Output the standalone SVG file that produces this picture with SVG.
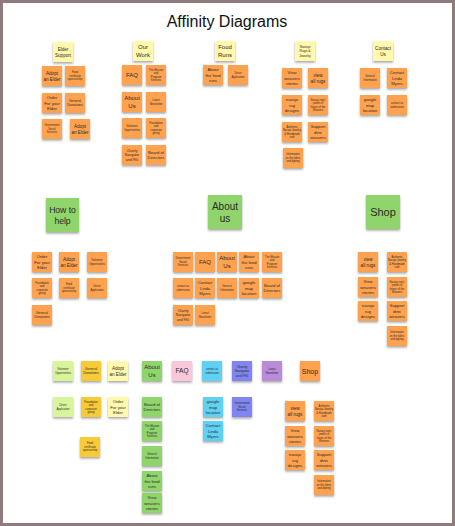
<svg xmlns="http://www.w3.org/2000/svg" width="455" height="526" viewBox="0 0 455 526">
<defs>
<filter id="sh" x="-20%" y="-20%" width="140%" height="150%">
<feDropShadow dx="0" dy="1.6" stdDeviation="0.9" flood-color="#000" flood-opacity="0.35"/>
</filter>
</defs>
<style>
rect.n{filter:url(#sh);}
.o{fill:#ffa250;}
.y{fill:#fff8ad;}
.g{fill:#8fd56c;}
.lg{fill:#d9f59b;}
.go{fill:#f7ca38;}
.p{fill:#fac7da;}
.c{fill:#5fd1f2;}
.bv{fill:#8085f2;}
.pu{fill:#ba8bd9;}
text{font-family:"Liberation Sans",Arial,sans-serif;fill:#2e2a26;text-anchor:middle;}
.a{font-size:4.6px;}
.b{font-size:4.2px;}
.cc{font-size:3.4px;}
.d{font-size:2.7px;}
.e{font-size:6px;}
.title{font-size:16px;fill:#111;}
</style>
<rect x="1.5" y="1.5" width="452" height="523" fill="#ffffff" stroke="#8f7b7d" stroke-width="3"/>
<text class="title" x="227" y="27">Affinity Diagrams</text>

<!-- Top section -->
<g id="elder-support"><rect class="n y" x="53" y="42" width="20" height="20"/><text class="a" x="63" y="50.6"><tspan x="63">Elder</tspan><tspan x="63" dy="6">Support</tspan></text></g>
<g id="adopt-1"><rect class="n o" x="42" y="66" width="20" height="20"/><text class="a" x="52" y="74.6"><tspan x="52">Adopt</tspan><tspan x="52" dy="6">an Elder</tspan></text></g>
<g id="food-cert-1"><rect class="n o" x="65" y="66" width="20" height="20"/><text class="d" x="75" y="73.45"><tspan x="75">Food</tspan><tspan x="75" dy="3.5">certificate</tspan><tspan x="75" dy="3.5">sponsorship</tspan></text></g>
<g id="order-1"><rect class="n o" x="42" y="93" width="20" height="20"/><text class="b" x="52" y="99.1"><tspan x="52">Order</tspan><tspan x="52" dy="5.4">For your</tspan><tspan x="52" dy="5.4">Elder</tspan></text></g>
<g id="gen-don-1"><rect class="n o" x="65" y="93" width="20" height="20"/><text class="cc" x="75" y="102"><tspan x="75">General</tspan><tspan x="75" dy="4.4">Donations</tspan></text></g>
<g id="gov-1"><rect class="n o" x="42" y="119" width="20" height="20"/><text class="d" x="52" y="126.45"><tspan x="52">Government</tspan><tspan x="52" dy="3.5">Social</tspan><tspan x="52" dy="3.5">Services</tspan></text></g>
<g id="adopt-2"><rect class="n o" x="70" y="119" width="20" height="20"/><text class="a" x="80" y="127.6"><tspan x="80">Adopt</tspan><tspan x="80" dy="6">an Elder</tspan></text></g>

<g id="our-work"><rect class="n y" x="133" y="41" width="20" height="20"/><text class="e" x="143" y="49.3"><tspan x="143">Our</tspan><tspan x="143" dy="7.6">Work</tspan></text></g>
<g id="faq-1"><rect class="n o" x="122" y="65" width="20" height="20"/><text class="e" x="132" y="77.1">FAQ</text></g>
<g id="mission-1"><rect class="n o" x="146" y="65" width="20" height="20"/><text class="d" x="156" y="70.7"><tspan x="156">The Mission</tspan><tspan x="156" dy="3.5">and</tspan><tspan x="156" dy="3.5">Program</tspan><tspan x="156" dy="3.5">Services</tspan></text></g>
<g id="about-1"><rect class="n o" x="122" y="92" width="20" height="20"/><text class="e" x="132" y="100.3"><tspan x="132">About</tspan><tspan x="132" dy="7.6">Us</tspan></text></g>
<g id="news-1"><rect class="n o" x="146" y="92" width="20" height="20"/><text class="d" x="156" y="101.2"><tspan x="156">Latest</tspan><tspan x="156" dy="3.5">Newsletter</tspan></text></g>
<g id="vol-1"><rect class="n o" x="122" y="118" width="20" height="20"/><text class="d" x="132" y="127.2"><tspan x="132">Volunteer</tspan><tspan x="132" dy="3.5">Opportunities</tspan></text></g>
<g id="found-1"><rect class="n o" x="146" y="118" width="20" height="20"/><text class="d" x="156" y="123.7"><tspan x="156">Foundation</tspan><tspan x="156" dy="3.5">and</tspan><tspan x="156" dy="3.5">corporate</tspan><tspan x="156" dy="3.5">giving</tspan></text></g>
<g id="charity-1"><rect class="n o" x="122" y="145" width="20" height="20"/><text class="cc" x="132" y="151.8"><tspan x="132">Charity</tspan><tspan x="132" dy="4.4">Navigator</tspan><tspan x="132" dy="4.4">and 990</tspan></text></g>
<g id="board-1"><rect class="n o" x="146" y="145" width="20" height="20"/><text class="b" x="156" y="153.8"><tspan x="156">Board of</tspan><tspan x="156" dy="5.4">Directors</tspan></text></g>

<g id="food-runs"><rect class="n y" x="215" y="41" width="20" height="20"/><text class="e" x="225" y="49.3"><tspan x="225">Food</tspan><tspan x="225" dy="7.6">Runs</tspan></text></g>
<g id="about-food-1"><rect class="n o" x="203" y="65" width="20" height="20"/><text class="b" x="213" y="71.1"><tspan x="213">About</tspan><tspan x="213" dy="5.4">the food</tspan><tspan x="213" dy="5.4">runs</tspan></text></g>
<g id="driver-1"><rect class="n o" x="228" y="65" width="20" height="20"/><text class="d" x="238" y="74.2"><tspan x="238">Driver</tspan><tspan x="238" dy="3.5">Application</tspan></text></g>

<g id="navajo-hdr"><rect class="n y" x="295" y="41" width="20" height="20"/><text class="cc" x="305" y="47.8"><tspan x="305">Navajo</tspan><tspan x="305" dy="4.4">Rugs &amp;</tspan><tspan x="305" dy="4.4">Jewelry</tspan></text></g>
<g id="weavers-1"><rect class="n o" x="282" y="68" width="20" height="20"/><text class="b" x="292" y="74.1"><tspan x="292">View</tspan><tspan x="292" dy="5.4">weavers</tspan><tspan x="292" dy="5.4">stories</tspan></text></g>
<g id="rugs-1"><rect class="n o" x="308" y="68" width="20" height="20"/><text class="a" x="318" y="76.6"><tspan x="318">view</tspan><tspan x="318" dy="6">all rugs</tspan></text></g>
<g id="designs-1"><rect class="n o" x="282" y="95" width="20" height="20"/><text class="b" x="292" y="101.1"><tspan x="292">navajo</tspan><tspan x="292" dy="5.4">rug</tspan><tspan x="292" dy="5.4">designs</tspan></text></g>
<g id="honor-1"><rect class="n o" x="308" y="95" width="20" height="20"/><text class="d" x="318" y="100.7"><tspan x="318">Navajo rug's</tspan><tspan x="318" dy="3.5">jewels in</tspan><tspan x="318" dy="3.5">honor of the</tspan><tspan x="318" dy="3.5">Weavers</tspan></text></g>
<g id="authentic-1"><rect class="n o" x="282" y="122" width="20" height="20"/><text class="d" x="292" y="127.7"><tspan x="292">Authentic</tspan><tspan x="292" dy="3.5">Navajo Jewelry</tspan><tspan x="292" dy="3.5">&amp; Handmade</tspan><tspan x="292" dy="3.5">craft</tspan></text></g>
<g id="support-1"><rect class="n o" x="308" y="122" width="20" height="20"/><text class="b" x="318" y="128.1"><tspan x="318">Support</tspan><tspan x="318" dy="5.4">dine</tspan><tspan x="318" dy="5.4">weavers</tspan></text></g>
<g id="info-1"><rect class="n o" x="283" y="148" width="20" height="20"/><text class="d" x="293" y="155.45"><tspan x="293">Information</tspan><tspan x="293" dy="3.5">on the fabric</tspan><tspan x="293" dy="3.5">and dyeing</tspan></text></g>

<g id="contact-hdr"><rect class="n y" x="373" y="41" width="20" height="20"/><text class="a" x="383" y="49.6"><tspan x="383">Contact</tspan><tspan x="383" dy="6">Us</tspan></text></g>
<g id="geninfo-1"><rect class="n o" x="360" y="68" width="20" height="20"/><text class="d" x="370" y="77.2"><tspan x="370">General</tspan><tspan x="370" dy="3.5">Information</tspan></text></g>
<g id="linda-1"><rect class="n o" x="387" y="68" width="20" height="20"/><text class="b" x="397" y="74.1"><tspan x="397">Contact</tspan><tspan x="397" dy="5.4">Linda</tspan><tspan x="397" dy="5.4">Myers</tspan></text></g>
<g id="google-1"><rect class="n o" x="360" y="95" width="20" height="20"/><text class="b" x="370" y="101.1"><tspan x="370">google</tspan><tspan x="370" dy="5.4">map</tspan><tspan x="370" dy="5.4">location</tspan></text></g>
<g id="submission-1"><rect class="n o" x="387" y="95" width="20" height="20"/><text class="d" x="397" y="104.2"><tspan x="397">contact us</tspan><tspan x="397" dy="3.5">submission</tspan></text></g>

<!-- Middle section -->
<g id="how-to-help"><rect class="n g" x="46" y="198" width="33" height="34"/><text x="62.5" y="212.5" style="font-size:8.6px"><tspan x="62.5">How to</tspan><tspan x="62.5" dy="11">help</tspan></text></g>
<g id="order-2"><rect class="n o" x="32" y="252" width="20" height="20"/><text class="b" x="42" y="258.1"><tspan x="42">Order</tspan><tspan x="42" dy="5.4">For your</tspan><tspan x="42" dy="5.4">Elder</tspan></text></g>
<g id="adopt-3"><rect class="n o" x="59" y="252" width="20" height="20"/><text class="a" x="69" y="260.6"><tspan x="69">Adopt</tspan><tspan x="69" dy="6">an Elder</tspan></text></g>
<g id="vol-2"><rect class="n o" x="87" y="252" width="20" height="20"/><text class="d" x="97" y="261.2"><tspan x="97">Volunteer</tspan><tspan x="97" dy="3.5">Opportunities</tspan></text></g>
<g id="found-2"><rect class="n o" x="32" y="278" width="20" height="20"/><text class="d" x="42" y="283.7"><tspan x="42">Foundation</tspan><tspan x="42" dy="3.5">and</tspan><tspan x="42" dy="3.5">corporate</tspan><tspan x="42" dy="3.5">giving</tspan></text></g>
<g id="food-cert-2"><rect class="n o" x="59" y="278" width="20" height="20"/><text class="d" x="69" y="285.45"><tspan x="69">Food</tspan><tspan x="69" dy="3.5">certificate</tspan><tspan x="69" dy="3.5">sponsorship</tspan></text></g>
<g id="driver-2"><rect class="n o" x="87" y="278" width="20" height="20"/><text class="d" x="97" y="287.2"><tspan x="97">Driver</tspan><tspan x="97" dy="3.5">Application</tspan></text></g>
<g id="gen-don-2"><rect class="n o" x="32" y="305" width="20" height="20"/><text class="cc" x="42" y="314"><tspan x="42">General</tspan><tspan x="42" dy="4.4">Donations</tspan></text></g>

<g id="about-us-hdr"><rect class="n g" x="208" y="195" width="34" height="34"/><text x="225" y="209.5" style="font-size:10px"><tspan x="225">About</tspan><tspan x="225" dy="12">us</tspan></text></g>
<g id="gov-2"><rect class="n o" x="173" y="252" width="20" height="20"/><text class="d" x="183" y="259.45"><tspan x="183">Government</tspan><tspan x="183" dy="3.5">Social</tspan><tspan x="183" dy="3.5">Services</tspan></text></g>
<g id="faq-2"><rect class="n o" x="195" y="252" width="20" height="20"/><text class="e" x="205" y="264.1">FAQ</text></g>
<g id="about-2"><rect class="n o" x="217" y="252" width="20" height="20"/><text class="e" x="227" y="260.3"><tspan x="227">About</tspan><tspan x="227" dy="7.6">Us</tspan></text></g>
<g id="about-food-2"><rect class="n o" x="239" y="252" width="20" height="20"/><text class="b" x="249" y="258.1"><tspan x="249">About</tspan><tspan x="249" dy="5.4">the food</tspan><tspan x="249" dy="5.4">runs</tspan></text></g>
<g id="mission-2"><rect class="n o" x="262" y="252" width="20" height="20"/><text class="d" x="272" y="257.7"><tspan x="272">The Mission</tspan><tspan x="272" dy="3.5">and</tspan><tspan x="272" dy="3.5">Program</tspan><tspan x="272" dy="3.5">Services</tspan></text></g>
<g id="submission-2"><rect class="n o" x="173" y="278" width="20" height="20"/><text class="d" x="183" y="287.2"><tspan x="183">contact us</tspan><tspan x="183" dy="3.5">submission</tspan></text></g>
<g id="linda-2"><rect class="n o" x="195" y="278" width="20" height="20"/><text class="b" x="205" y="284.1"><tspan x="205">Contact</tspan><tspan x="205" dy="5.4">Linda</tspan><tspan x="205" dy="5.4">Myers</tspan></text></g>
<g id="geninfo-2"><rect class="n o" x="217" y="278" width="20" height="20"/><text class="d" x="227" y="287.2"><tspan x="227">General</tspan><tspan x="227" dy="3.5">Information</tspan></text></g>
<g id="google-2"><rect class="n o" x="239" y="278" width="20" height="20"/><text class="b" x="249" y="284.1"><tspan x="249">google</tspan><tspan x="249" dy="5.4">map</tspan><tspan x="249" dy="5.4">location</tspan></text></g>
<g id="board-2"><rect class="n o" x="262" y="278" width="20" height="20"/><text class="b" x="272" y="286.8"><tspan x="272">Board of</tspan><tspan x="272" dy="5.4">Directors</tspan></text></g>
<g id="charity-2"><rect class="n o" x="173" y="305" width="20" height="20"/><text class="cc" x="183" y="311.8"><tspan x="183">Charity</tspan><tspan x="183" dy="4.4">Navigator</tspan><tspan x="183" dy="4.4">and 990</tspan></text></g>
<g id="news-2"><rect class="n o" x="195" y="305" width="20" height="20"/><text class="d" x="205" y="314.2"><tspan x="205">Latest</tspan><tspan x="205" dy="3.5">Newsletter</tspan></text></g>

<g id="shop-hdr"><rect class="n g" x="366" y="195" width="34" height="34"/><text x="383" y="215.9" style="font-size:11px">Shop</text></g>
<g id="rugs-2"><rect class="n o" x="358" y="252" width="20" height="20"/><text class="a" x="368" y="260.6"><tspan x="368">view</tspan><tspan x="368" dy="6">all rugs</tspan></text></g>
<g id="authentic-2"><rect class="n o" x="387" y="252" width="20" height="20"/><text class="d" x="397" y="257.7"><tspan x="397">Authentic</tspan><tspan x="397" dy="3.5">Navajo Jewelry</tspan><tspan x="397" dy="3.5">&amp; Handmade</tspan><tspan x="397" dy="3.5">craft</tspan></text></g>
<g id="weavers-2"><rect class="n o" x="358" y="277" width="20" height="20"/><text class="b" x="368" y="283.1"><tspan x="368">View</tspan><tspan x="368" dy="5.4">weavers</tspan><tspan x="368" dy="5.4">stories</tspan></text></g>
<g id="honor-2"><rect class="n o" x="387" y="277" width="20" height="20"/><text class="d" x="397" y="282.7"><tspan x="397">Navajo rug's</tspan><tspan x="397" dy="3.5">jewels in</tspan><tspan x="397" dy="3.5">honor of the</tspan><tspan x="397" dy="3.5">Weavers</tspan></text></g>
<g id="designs-2"><rect class="n o" x="358" y="301" width="20" height="20"/><text class="b" x="368" y="307.1"><tspan x="368">navajo</tspan><tspan x="368" dy="5.4">rug</tspan><tspan x="368" dy="5.4">designs</tspan></text></g>
<g id="support-2"><rect class="n o" x="387" y="301" width="20" height="20"/><text class="b" x="397" y="307.1"><tspan x="397">Support</tspan><tspan x="397" dy="5.4">dine</tspan><tspan x="397" dy="5.4">weavers</tspan></text></g>
<g id="info-2"><rect class="n o" x="387" y="326" width="20" height="20"/><text class="d" x="397" y="333.45"><tspan x="397">Information</tspan><tspan x="397" dy="3.5">on the fabric</tspan><tspan x="397" dy="3.5">and dyeing</tspan></text></g>

<!-- Bottom section -->
<g id="vol-3"><rect class="n lg" x="53" y="361" width="20" height="20"/><text class="d" x="63" y="370.2"><tspan x="63">Volunteer</tspan><tspan x="63" dy="3.5">Opportunities</tspan></text></g>
<g id="gen-don-3"><rect class="n go" x="81" y="361" width="20" height="20"/><text class="cc" x="91" y="370"><tspan x="91">General</tspan><tspan x="91" dy="4.4">Donations</tspan></text></g>
<g id="adopt-4"><rect class="n y" x="108" y="361" width="20" height="20"/><text class="a" x="118" y="369.6"><tspan x="118">Adopt</tspan><tspan x="118" dy="6">an Elder</tspan></text></g>
<g id="about-3"><rect class="n g" x="142" y="361" width="20" height="20"/><text class="e" x="152" y="369.3"><tspan x="152">About</tspan><tspan x="152" dy="7.6">Us</tspan></text></g>
<g id="faq-3"><rect class="n p" x="172" y="361" width="20" height="20"/><text x="182" y="373.3" style="font-size:6.5px">FAQ</text></g>
<g id="submission-3"><rect class="n c" x="202" y="361" width="20" height="20"/><text class="d" x="212" y="370.2"><tspan x="212">contact us</tspan><tspan x="212" dy="3.5">submission</tspan></text></g>
<g id="charity-3"><rect class="n bv" x="232" y="361" width="20" height="20"/><text class="cc" x="242" y="367.8"><tspan x="242">Charity</tspan><tspan x="242" dy="4.4">Navigator</tspan><tspan x="242" dy="4.4">and 990</tspan></text></g>
<g id="news-3"><rect class="n pu" x="262" y="361" width="20" height="20"/><text class="d" x="272" y="370.2"><tspan x="272">Latest</tspan><tspan x="272" dy="3.5">Newsletter</tspan></text></g>
<g id="shop-3"><rect class="n o" x="300" y="361" width="20" height="20"/><text x="310" y="373.5" style="font-size:7px">Shop</text></g>

<g id="driver-3"><rect class="n lg" x="53" y="397" width="20" height="20"/><text class="d" x="63" y="406.2"><tspan x="63">Driver</tspan><tspan x="63" dy="3.5">Application</tspan></text></g>
<g id="found-3"><rect class="n go" x="81" y="397" width="20" height="20"/><text class="d" x="91" y="402.7"><tspan x="91">Foundation</tspan><tspan x="91" dy="3.5">and</tspan><tspan x="91" dy="3.5">corporate</tspan><tspan x="91" dy="3.5">giving</tspan></text></g>
<g id="order-3"><rect class="n y" x="108" y="397" width="20" height="20"/><text class="b" x="118" y="403.1"><tspan x="118">Order</tspan><tspan x="118" dy="5.4">For your</tspan><tspan x="118" dy="5.4">Elder</tspan></text></g>
<g id="board-3"><rect class="n g" x="142" y="397" width="20" height="20"/><text class="b" x="152" y="405.8"><tspan x="152">Board of</tspan><tspan x="152" dy="5.4">Directors</tspan></text></g>
<g id="google-3"><rect class="n c" x="203" y="397" width="20" height="20"/><text class="b" x="213" y="403.1"><tspan x="213">google</tspan><tspan x="213" dy="5.4">map</tspan><tspan x="213" dy="5.4">location</tspan></text></g>
<g id="gov-3"><rect class="n bv" x="232" y="397" width="20" height="20"/><text class="d" x="242" y="404.45"><tspan x="242">Government</tspan><tspan x="242" dy="3.5">Social</tspan><tspan x="242" dy="3.5">Services</tspan></text></g>

<g id="food-cert-3"><rect class="n go" x="80" y="437" width="20" height="20"/><text class="d" x="90" y="444.45"><tspan x="90">Food</tspan><tspan x="90" dy="3.5">certificate</tspan><tspan x="90" dy="3.5">sponsorship</tspan></text></g>
<g id="mission-3"><rect class="n g" x="142" y="421" width="20" height="20"/><text class="d" x="152" y="426.7"><tspan x="152">The Mission</tspan><tspan x="152" dy="3.5">and</tspan><tspan x="152" dy="3.5">Program</tspan><tspan x="152" dy="3.5">Services</tspan></text></g>
<g id="linda-3"><rect class="n c" x="203" y="421" width="20" height="20"/><text class="b" x="213" y="427.1"><tspan x="213">Contact</tspan><tspan x="213" dy="5.4">Linda</tspan><tspan x="213" dy="5.4">Myers</tspan></text></g>
<g id="geninfo-3"><rect class="n g" x="142" y="446" width="20" height="20"/><text class="d" x="152" y="455.2"><tspan x="152">General</tspan><tspan x="152" dy="3.5">Information</tspan></text></g>
<g id="about-food-3"><rect class="n g" x="142" y="471" width="20" height="20"/><text class="b" x="152" y="477.1"><tspan x="152">About</tspan><tspan x="152" dy="5.4">the food</tspan><tspan x="152" dy="5.4">runs</tspan></text></g>
<g id="weavers-3"><rect class="n g" x="142" y="493" width="20" height="20"/><text class="b" x="152" y="499.1"><tspan x="152">View</tspan><tspan x="152" dy="5.4">weavers</tspan><tspan x="152" dy="5.4">stories</tspan></text></g>

<g id="rugs-3"><rect class="n o" x="285" y="401" width="20" height="20"/><text class="a" x="295" y="409.6"><tspan x="295">view</tspan><tspan x="295" dy="6">all rugs</tspan></text></g>
<g id="weavers-4"><rect class="n o" x="285" y="426" width="20" height="20"/><text class="b" x="295" y="432.1"><tspan x="295">View</tspan><tspan x="295" dy="5.4">weavers</tspan><tspan x="295" dy="5.4">stories</tspan></text></g>
<g id="designs-3"><rect class="n o" x="285" y="450" width="20" height="20"/><text class="b" x="295" y="456.1"><tspan x="295">navajo</tspan><tspan x="295" dy="5.4">rug</tspan><tspan x="295" dy="5.4">designs</tspan></text></g>
<g id="authentic-3"><rect class="n o" x="314" y="401" width="20" height="20"/><text class="d" x="324" y="406.7"><tspan x="324">Authentic</tspan><tspan x="324" dy="3.5">Navajo Jewelry</tspan><tspan x="324" dy="3.5">&amp; Handmade</tspan><tspan x="324" dy="3.5">craft</tspan></text></g>
<g id="honor-3"><rect class="n o" x="314" y="426" width="20" height="20"/><text class="d" x="324" y="431.7"><tspan x="324">Navajo rug's</tspan><tspan x="324" dy="3.5">jewels in</tspan><tspan x="324" dy="3.5">honor of the</tspan><tspan x="324" dy="3.5">Weavers</tspan></text></g>
<g id="support-3"><rect class="n o" x="314" y="450" width="20" height="20"/><text class="b" x="324" y="456.1"><tspan x="324">Support</tspan><tspan x="324" dy="5.4">dine</tspan><tspan x="324" dy="5.4">weavers</tspan></text></g>
<g id="info-3"><rect class="n o" x="314" y="475" width="20" height="20"/><text class="d" x="324" y="482.45"><tspan x="324">Information</tspan><tspan x="324" dy="3.5">on the fabric</tspan><tspan x="324" dy="3.5">and dyeing</tspan></text></g>
</svg>
